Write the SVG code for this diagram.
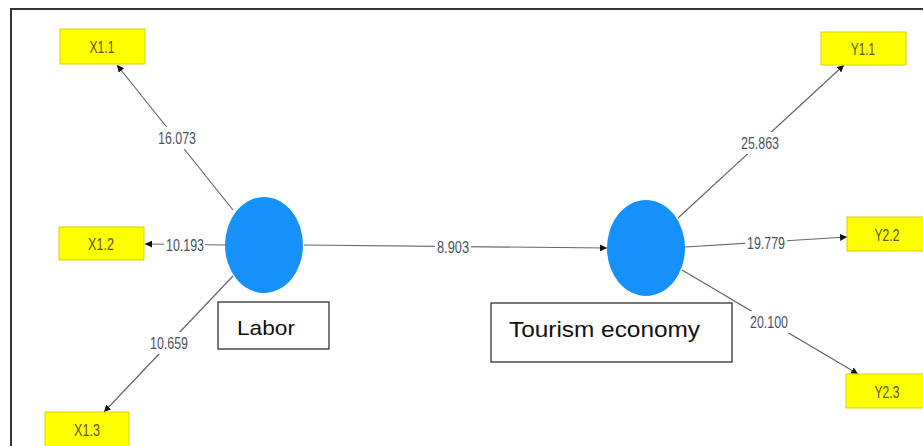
<svg xmlns="http://www.w3.org/2000/svg" width="923" height="446" viewBox="0 0 923 446">
<defs>
<marker id="ah" viewBox="0 0 10 10" refX="10" refY="5" markerWidth="7" markerHeight="7" markerUnits="userSpaceOnUse" orient="auto">
<path d="M0,0 L10,5 L0,10 z" fill="#111"/>
</marker>
</defs>
<style>
.ind{fill:#ffff00;stroke:#d9d200;stroke-width:1}
.indt{font-family:"Liberation Sans",Arial,sans-serif;font-size:17px;fill:#5a5800;text-anchor:middle;dominant-baseline:central}
.lat{fill:#1690fb}
.lbl{fill:#fff;stroke:#222;stroke-width:1.2}
.lblt{font-family:"Liberation Sans",Arial,sans-serif;fill:#111}
.edge{stroke:#666;stroke-width:1.2;fill:none;marker-end:url(#ah)}
.bg{fill:#fff}
.val{font-family:"Liberation Sans",Arial,sans-serif;font-size:17px;fill:#4a5262;text-anchor:middle;dominant-baseline:central}
.frame{stroke:#333;stroke-width:2;fill:none}
</style>
<rect width="923" height="446" fill="#fff"/>
<path class="frame" d="M11,446 L11,9 L923,9"/>
<g id="connectors">
<line class="edge" x1="233" y1="210" x2="117" y2="65"/>
<line class="edge" x1="225" y1="245" x2="145" y2="244"/>
<line class="edge" x1="233" y1="276" x2="104" y2="412"/>
<line class="edge" x1="304" y1="245" x2="607" y2="248"/>
<line class="edge" x1="678" y1="218" x2="844" y2="65"/>
<line class="edge" x1="685" y1="247" x2="847" y2="237"/>
<line class="edge" x1="682" y1="270" x2="858" y2="374"/>
<rect class="bg" x="156" y="127" width="42" height="22"/>
<text class="val" x="177" y="138" textLength="38" lengthAdjust="spacingAndGlyphs">16.073</text>
<rect class="bg" x="164" y="235" width="41" height="20"/>
<text class="val" x="185" y="245" textLength="38" lengthAdjust="spacingAndGlyphs">10.193</text>
<rect class="bg" x="148" y="332" width="42" height="22"/>
<text class="val" x="169" y="343" textLength="38" lengthAdjust="spacingAndGlyphs">10.659</text>
<rect class="bg" x="435" y="237" width="36" height="20"/>
<text class="val" x="453" y="247" textLength="32" lengthAdjust="spacingAndGlyphs">8.903</text>
<rect class="bg" x="739" y="132" width="42" height="22"/>
<text class="val" x="760" y="143" textLength="38" lengthAdjust="spacingAndGlyphs">25.863</text>
<rect class="bg" x="745" y="232" width="42" height="22"/>
<text class="val" x="766" y="243" textLength="38" lengthAdjust="spacingAndGlyphs">19.779</text>
<rect class="bg" x="748" y="311" width="42" height="22"/>
<text class="val" x="769" y="322" textLength="38" lengthAdjust="spacingAndGlyphs">20.100</text>
</g>
<g id="X1.1"><rect class="ind" x="60" y="29" width="85" height="35"/><text class="indt" x="102" y="47" textLength="25" lengthAdjust="spacingAndGlyphs">X1.1</text></g>
<g id="X1.2"><rect class="ind" x="59" y="227" width="85" height="33"/><text class="indt" x="101" y="244" textLength="26" lengthAdjust="spacingAndGlyphs">X1.2</text></g>
<g id="X1.3"><rect class="ind" x="45" y="412" width="84" height="36"/><text class="indt" x="87" y="430" textLength="26" lengthAdjust="spacingAndGlyphs">X1.3</text></g>
<g id="Y1.1"><rect class="ind" x="821" y="32" width="85" height="33"/><text class="indt" x="863" y="49" textLength="24" lengthAdjust="spacingAndGlyphs">Y1.1</text></g>
<g id="Y2.2"><rect class="ind" x="847" y="217" width="85" height="34"/><text class="indt" x="887" y="235" textLength="25" lengthAdjust="spacingAndGlyphs">Y2.2</text></g>
<g id="Y2.3"><rect class="ind" x="846" y="374" width="85" height="34"/><text class="indt" x="887" y="392" textLength="25" lengthAdjust="spacingAndGlyphs">Y2.3</text></g>
<g id="Labor">
<ellipse class="lat" cx="264" cy="245" rx="39" ry="48"/>
<rect class="lbl" x="218" y="302" width="111" height="47"/>
<text class="lblt" x="237" y="335" font-size="21" textLength="58" lengthAdjust="spacingAndGlyphs">Labor</text>
</g>
<g id="Tourism-economy">
<ellipse class="lat" cx="646" cy="248" rx="39" ry="48"/>
<rect class="lbl" x="491" y="303" width="241" height="59"/>
<text class="lblt" x="509" y="337" font-size="22" textLength="191" lengthAdjust="spacingAndGlyphs">Tourism economy</text>
</g>
</svg>
